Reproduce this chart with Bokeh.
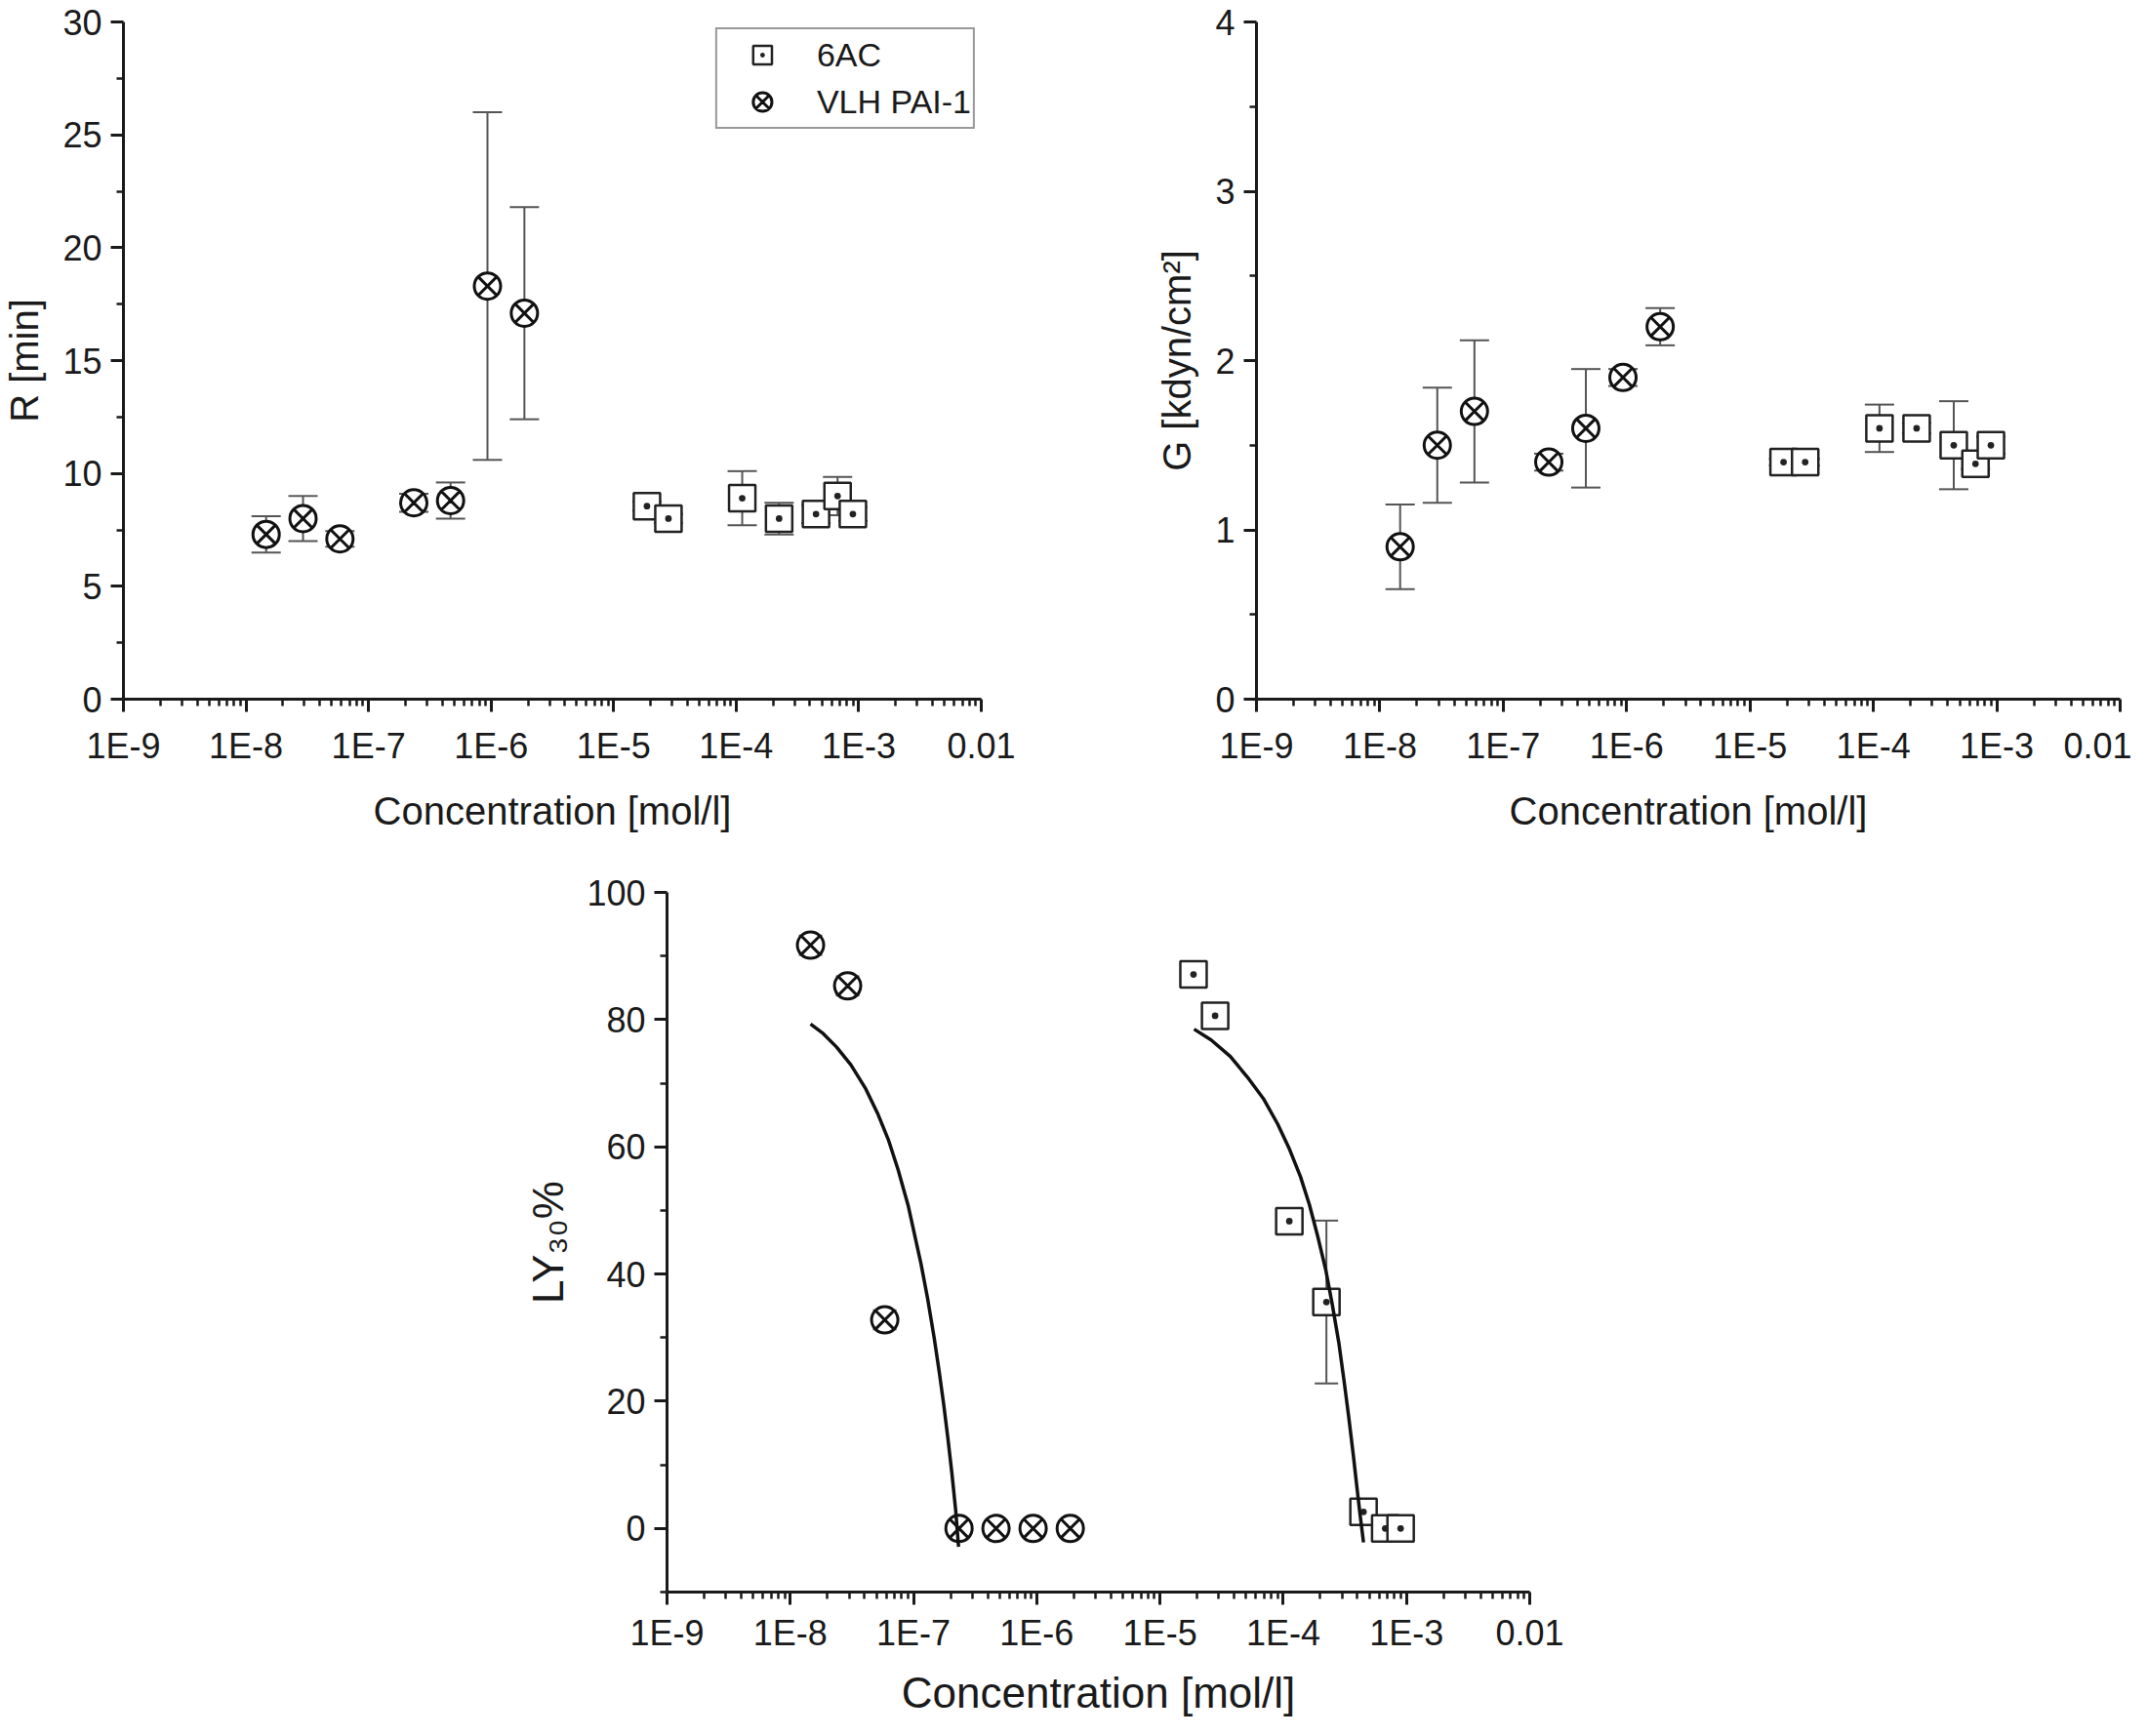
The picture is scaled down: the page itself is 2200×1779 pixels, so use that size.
from bokeh.plotting import figure
from bokeh.models import (Range1d, FixedTicker, CustomJSTickFormatter, Whisker, TeeHead,
                          ColumnDataSource, Legend, LegendItem)
from bokeh.layouts import column, row
from bokeh.embed import file_html
from bokeh.resources import INLINE

# ---------------- data ----------------
vlh_conc = [1.46e-8, 2.92e-8, 5.84e-8, 2.34e-7, 4.67e-7, 9.34e-7, 1.87e-6]
ac_conc = [1.87e-5, 2.80e-5, 1.12e-4, 2.24e-4, 4.48e-4, 6.72e-4, 8.96e-4]

# R [min]
vlh_r = [7.3, 8.0, 7.1, 8.7, 8.8, 18.3, 17.1]
vlh_r_err = [0.8, 1.0, 0.35, 0.4, 0.8, 7.7, 4.7]
ac_r = [8.55, 8.0, 8.9, 8.0, 8.2, 9.0, 8.2]
ac_r_err = [0.2, 0.2, 1.2, 0.7, 0.4, 0.85, 0.3]

# G [kdyn/cm2]
vlh_g = [0.90, 1.50, 1.70, 1.40, 1.60, 1.90, 2.20]
vlh_g_err = [0.25, 0.34, 0.42, 0.05, 0.35, 0.05, 0.11]
ac_g = [1.40, 1.40, 1.60, 1.60, 1.50, 1.39, 1.50]
ac_g_err = [0.02, 0.02, 0.14, 0.03, 0.26, 0.03, 0.05]

# LY30 %
vlh_ly = [91.7, 85.3, 32.8, 0.0, 0.0, 0.0, 0.0]
vlh_ly_err = [1.5, 1.5, 1.5, 0.5, 0.5, 0.5, 0.5]
ac_ly = [87.1, 80.6, 48.3, 35.6, 2.6, 0.0, 0.0]
ac_ly_err = [1.5, 0.5, 2.0, 12.8, 1.0, 1.0, 0.5]

# fitted curves
vlh_fit_conc = [1.46e-8, 1.85e-8, 2.37e-8, 3.10e-8, 4.10e-8, 5.10e-8, 6.28e-8, 7.50e-8, 9.04e-8,
                1.15e-7, 1.30e-7, 1.47e-7, 1.62e-7, 1.76e-7, 1.90e-7, 2.05e-7, 2.20e-7, 2.32e-7]
vlh_fit_ly = [79.3, 77.8, 75.7, 72.9, 69.1, 65.3, 61.0, 56.4, 50.8,
              41.6, 36.2, 30.0, 24.5, 19.4, 14.2, 8.6, 2.8, -2.9]
ac_fit_conc = [1.89e-5, 2.60e-5, 3.72e-5, 5.10e-5, 6.89e-5, 9.00e-5, 1.125e-4, 1.38e-4, 1.63e-4,
               1.90e-4, 2.21e-4, 2.50e-4, 2.83e-4, 3.10e-4, 3.40e-4, 3.70e-4, 3.96e-4, 4.20e-4, 4.48e-4]
ac_fit_ly = [78.5, 76.8, 74.2, 71.0, 67.6, 63.6, 59.6, 55.3, 50.9,
             46.0, 40.7, 35.2, 29.1, 23.5, 17.5, 11.6, 6.5, 2.2, -2.2]

# ticks
x_tick_values = [1e-9, 1e-8, 1e-7, 1e-6, 1e-5, 1e-4, 1e-3, 1e-2]
x_tick_labels = ["1E-9", "1E-8", "1E-7", "1E-6", "1E-5", "1E-4", "1E-3", "0.01"]
r_ticks = [0, 5, 10, 15, 20, 25, 30]
g_ticks = [0, 1, 2, 3, 4]
ly_ticks = [0, 20, 40, 60, 80, 100]

FONT = "Liberation Sans"
INK = "#1a1a1a"
ERR = "#555555"

x_minor = [m * v for v in x_tick_values[:-1] for m in range(2, 10)]


def x_formatter():
    return CustomJSTickFormatter(args=dict(lab_list=x_tick_labels, val_list=x_tick_values), code="""
        let best = 0, bd = Infinity;
        for (let i = 0; i < val_list.length; i++) {
            const d = Math.abs(Math.log10(tick) - Math.log10(val_list[i]));
            if (d < bd) { bd = d; best = i; }
        }
        return lab_list[best];
    """)


def make_fig(width, height, ml, mr, mt, mb, yr):
    p = figure(width=width, height=height, x_axis_type="log",
               x_range=Range1d(1e-9, 1e-2), y_range=Range1d(*yr),
               output_backend="svg", toolbar_location=None,
               min_border_left=ml, min_border_right=mr,
               min_border_top=mt, min_border_bottom=mb)
    p.outline_line_color = None
    p.xgrid.visible = False
    p.ygrid.visible = False
    p.background_fill_color = "white"
    p.border_fill_color = "white"
    return p


def style(p, yticks, yminor, xlabel, ylabel, tick_fs, label_fs, ylab_standoff, xlab_standoff, xtick_standoff):
    p.xaxis.ticker = FixedTicker(ticks=x_tick_values, minor_ticks=x_minor)
    p.xaxis.formatter = x_formatter()
    p.yaxis.ticker = FixedTicker(ticks=yticks, minor_ticks=yminor)
    p.xaxis.axis_label = xlabel
    p.yaxis.axis_label = ylabel
    for ax in (p.xaxis[0], p.yaxis[0]):
        ax.axis_line_width = 3
        ax.axis_line_color = INK
        ax.major_tick_line_width = 3
        ax.major_tick_line_color = INK
        ax.minor_tick_line_width = 2.5
        ax.minor_tick_line_color = INK
        ax.major_tick_out = 13
        ax.major_tick_in = 0
        ax.minor_tick_out = 7
        ax.minor_tick_in = 0
        ax.major_label_text_font = FONT
        ax.major_label_text_font_size = tick_fs
        ax.major_label_text_color = INK
        ax.axis_label_text_font = FONT
        ax.axis_label_text_font_size = label_fs
        ax.axis_label_text_font_style = "normal"
        ax.axis_label_text_color = INK
    p.yaxis.major_label_standoff = 9
    p.xaxis.major_label_standoff = xtick_standoff
    p.yaxis.axis_label_standoff = ylab_standoff
    p.xaxis.axis_label_standoff = xlab_standoff


def add_errors(p, xs, ys, errs, cap):
    src = ColumnDataSource(dict(base=xs,
                                upper=[y + e for y, e in zip(ys, errs)],
                                lower=[y - e for y, e in zip(ys, errs)]))
    w = Whisker(source=src, base="base", upper="upper", lower="lower",
                line_color=ERR, line_width=2,
                upper_head=TeeHead(size=cap, line_color=ERR, line_width=2),
                lower_head=TeeHead(size=cap, line_color=ERR, line_width=2))
    p.add_layout(w)


def add_points(p, xs, ys, marker):
    if marker == "vlh":
        return p.scatter(xs, ys, marker="circle_x", size=27, line_width=3,
                         line_color="#111111", fill_color="white")
    return p.scatter(xs, ys, marker="square_dot", size=27, line_width=2.5,
                     line_color="#222222", fill_color="white")


# ---------------- panel 1: R ----------------
p1 = make_fig(1045, 855, 118, 40, 22, 127, (0, 30))
style(p1, r_ticks, [t + 2.5 for t in r_ticks[:-1]], "Concentration [mol/l]", "R [min]",
      "36px", "40px", 14, 21, 14)
add_errors(p1, vlh_conc, vlh_r, vlh_r_err, 30)
add_errors(p1, ac_conc, ac_r, ac_r_err, 30)
r_ac = add_points(p1, ac_conc, ac_r, "ac")
r_vlh = add_points(p1, vlh_conc, vlh_r, "vlh")
legend = Legend(items=[LegendItem(label="6AC", renderers=[r_ac]),
                       LegendItem(label="VLH PAI-1", renderers=[r_vlh])],
                location="top_right", margin=6, padding=2, spacing=0,
                glyph_width=88, glyph_height=48, label_standoff=12,
                label_text_font=FONT, label_text_font_size="34px", label_text_color=INK,
                border_line_color="#333333", border_line_width=2,
                background_fill_color="white", background_fill_alpha=1.0)
p1.add_layout(legend)

# ---------------- panel 2: G ----------------
p2 = make_fig(1139, 855, 242, 12, 22, 129, (0, 4))
style(p2, g_ticks, [t + 0.5 for t in g_ticks[:-1]], "Concentration [mol/l]", "G [kdyn/cm\u00b2]",
      "36px", "40px", 14, 21, 14)
add_errors(p2, vlh_conc, vlh_g, vlh_g_err, 30)
add_errors(p2, ac_conc, ac_g, ac_g_err, 30)
add_points(p2, ac_conc, ac_g, "ac")
add_points(p2, vlh_conc, vlh_g, "vlh")

# ---------------- panel 3: LY30 ----------------
p3 = make_fig(1667, 906, 683, 100, 59, 124, (-10, 100))
style(p3, ly_ticks, [-10] + [t + 10 for t in ly_ticks[:-1]], "Concentration [mol/l]", "LY\u2083\u2080%",
      "36px", "44px", 12, 13, 8)
add_errors(p3, vlh_conc, vlh_ly, vlh_ly_err, 24)
add_errors(p3, ac_conc, ac_ly, ac_ly_err, 24)
add_points(p3, ac_conc, ac_ly, "ac")
add_points(p3, vlh_conc, vlh_ly, "vlh")
p3.line(vlh_fit_conc, vlh_fit_ly, line_width=3.5, line_color="#111111")
p3.line(ac_fit_conc, ac_fit_ly, line_width=3.5, line_color="#111111")

layout = column(row(p1, p2), p3)
open("out.html", "w").write(file_html(layout, INLINE))
